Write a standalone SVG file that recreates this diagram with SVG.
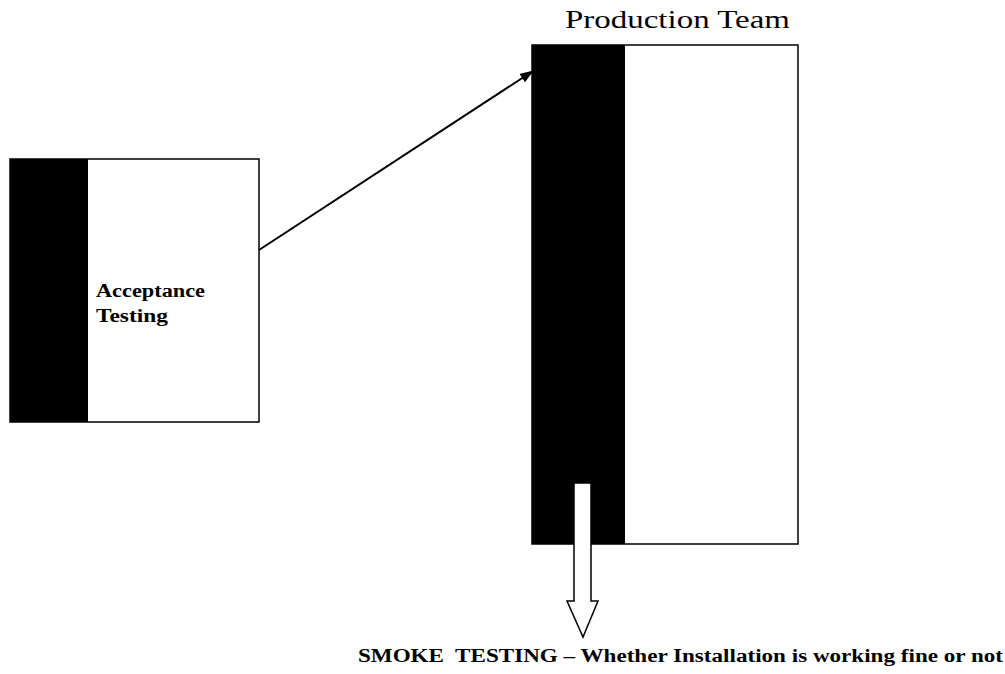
<svg xmlns="http://www.w3.org/2000/svg" width="1005" height="674" viewBox="0 0 1005 674">
<style>
.box{fill:#fff;stroke:#000;stroke-width:1.5}
.bar{fill:#000}
.t{font-family:"Liberation Serif",serif;fill:#000}
.b{font-weight:bold;font-size:18px}
</style>
<defs>
<marker id="ah" markerWidth="14" markerHeight="10" refX="13" refY="5" orient="auto" markerUnits="userSpaceOnUse">
<path d="M0,0 L14,5 L0,10 z" fill="#000"/>
</marker>
</defs>
<rect width="1005" height="674" fill="#fff"/>
<g id="acceptance">
<rect class="box" x="10" y="159" width="249" height="263"/>
<rect class="bar" x="10" y="159" width="78" height="263"/>
<text class="t b" x="96" y="297" textLength="109" lengthAdjust="spacingAndGlyphs">Acceptance</text>
<text class="t b" x="96" y="322" textLength="72" lengthAdjust="spacingAndGlyphs">Testing</text>
</g>
<g id="production">
<text class="t" x="565" y="28" font-size="26" textLength="225" lengthAdjust="spacingAndGlyphs">Production Team</text>
<rect class="box" x="532" y="45" width="266" height="499"/>
<rect class="bar" x="532" y="45" width="93" height="499"/>
</g>
<g id="connectors">
<line x1="259" y1="250" x2="533" y2="71" stroke="#000" stroke-width="2" marker-end="url(#ah)"/>
<path d="M574,483 L591,483 L591,601 L598,601 L583,637 L567,601 L574,601 Z" fill="#fff" stroke="#000" stroke-width="1.5"/>
</g>
<g id="smoke">
<text class="t b" x="358" y="662" textLength="645" lengthAdjust="spacingAndGlyphs" xml:space="preserve">SMOKE  TESTING – Whether Installation is working fine or not</text>
</g>
</svg>
